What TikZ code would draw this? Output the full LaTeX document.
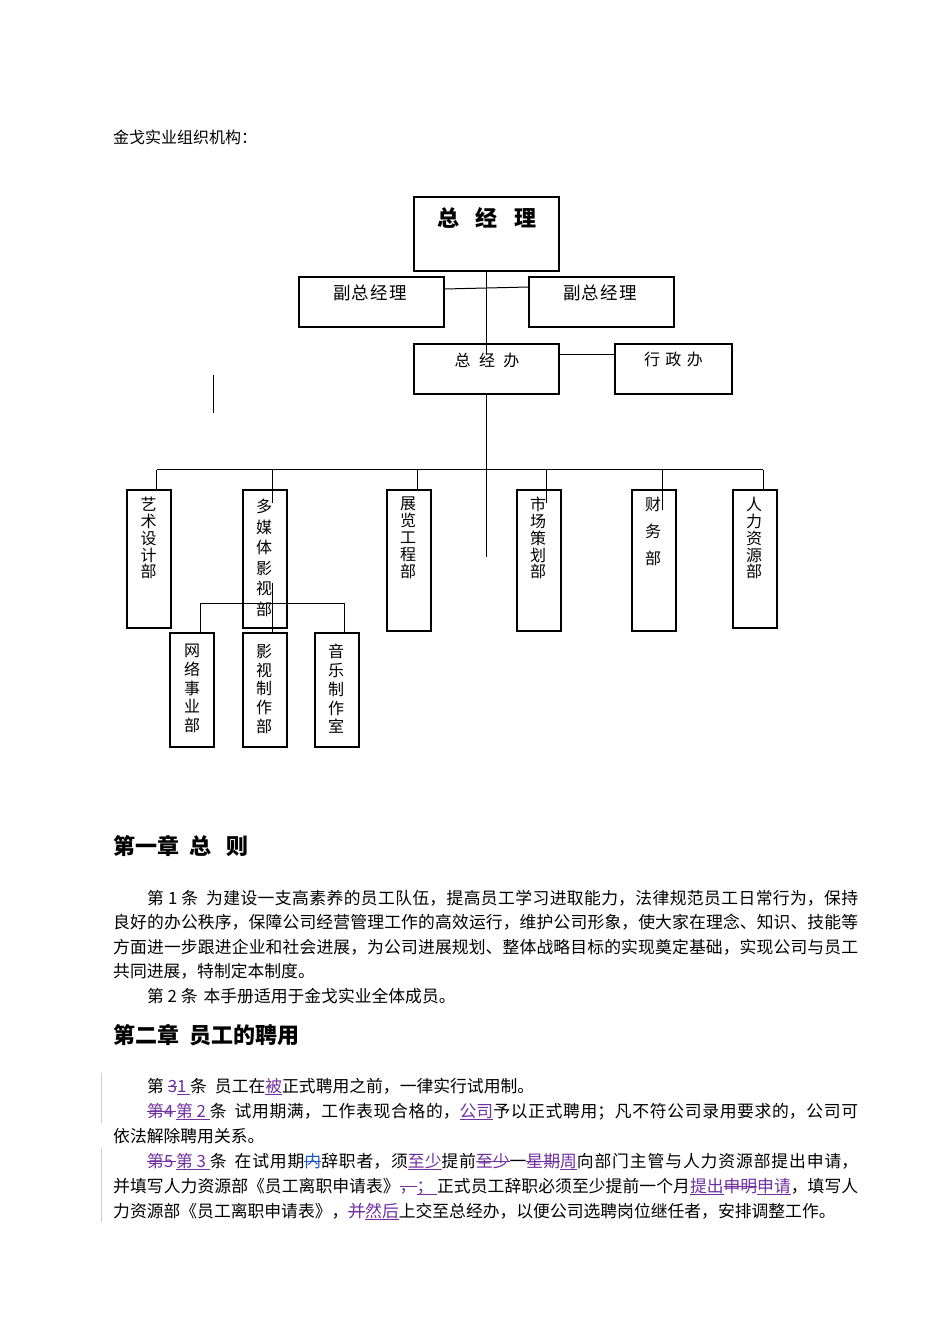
\documentclass[tikz,border=0pt]{standalone}
\usepackage{fontspec}
\setmainfont{Noto Sans CJK SC}
\XeTeXlinebreaklocale "zh"
\XeTeXlinebreakskip=0pt plus 3pt
\definecolor{revc}{RGB}{112,48,160}
\definecolor{revb}{RGB}{30,90,200}
\definecolor{barc}{RGB}{205,205,205}
\newcommand\tdel[1]{\leavevmode\begingroup\color{revc}\setbox0\hbox{#1}\rlap{\rule[5.6pt]{\wd0}{0.7pt}}\box0\endgroup}
\newcommand\tdelb[1]{\leavevmode\begingroup\color{revb}\setbox0\hbox{#1}\rlap{\rule[5.6pt]{\wd0}{0.7pt}}\box0\endgroup}
\newcommand\tins[1]{\leavevmode\begingroup\color{revc}\setbox0\hbox{#1}\rlap{\rule[-2.6pt]{\wd0}{0.7pt}}\box0\endgroup}
\newcommand\jline[2]{\parbox[b]{#1}{\tolerance=10000\hbadness=10000\parfillskip=0pt\noindent #2}}
\tikzset{
  orgbox/.style={draw, line width=1.1pt, inner sep=0pt},
  conn/.style={line width=1pt},
  body/.style={inner sep=0pt, anchor=base west, font=\fontsize{16.8}{20}\selectfont},
  vlab/.style={inner sep=0pt, anchor=north, align=center}
}
\begin{document}
\begin{tikzpicture}[x=1pt,y=-1pt]
\useasboundingbox[fill=white] (0,0) rectangle (950,1344);

% title
\node[body, font=\fontsize{16}{20}\selectfont] (title) at (113,143) {金戈实业组织机构：};

% org chart boxes
\node[orgbox, minimum width=145, minimum height=74] (gm) at (486.5,234) {};
\node[orgbox, minimum width=145, minimum height=50] (vp1) at (371.5,302) {};
\node[orgbox, minimum width=145, minimum height=50] (vp2) at (601.5,302) {};
\node[orgbox, minimum width=145, minimum height=50] (gmo) at (486.5,369) {};
\node[orgbox, minimum width=117, minimum height=50] (adm) at (673.5,369) {};
\node[orgbox, minimum width=44, minimum height=138] (d1) at (149,559) {};
\node[orgbox, minimum width=44, minimum height=138] (d2) at (265,559) {};
\node[orgbox, minimum width=44, minimum height=141] (d3) at (409,560.5) {};
\node[orgbox, minimum width=44, minimum height=141] (d4) at (539,560.5) {};
\node[orgbox, minimum width=44, minimum height=141] (d5) at (654,560.5) {};
\node[orgbox, minimum width=44, minimum height=138] (d6) at (755,559) {};
\node[orgbox, minimum width=44, minimum height=114] (s1) at (192,690) {};
\node[orgbox, minimum width=44, minimum height=114] (s2) at (265,690) {};
\node[orgbox, minimum width=44, minimum height=114] (s3) at (337,690) {};

% labels
\node[inner sep=0pt, anchor=base, font=\fontsize{22}{24}\selectfont\bfseries] (gmt) at (487,226) {总\hspace{17pt}经\hspace{17pt}理};
\node[inner sep=0pt, anchor=base, font=\fontsize{17.5}{20}\selectfont] (vp1t) at (370,299.5) {副\kern1.25pt总\kern1.25pt经\kern1.25pt理};
\node[inner sep=0pt, anchor=base, font=\fontsize{17.5}{20}\selectfont] (vp2t) at (600,299.5) {副\kern1.25pt总\kern1.25pt经\kern1.25pt理};
\node[inner sep=0pt, anchor=base, font=\fontsize{16}{20}\selectfont] (gmot) at (487,366) {总\kern8.5pt经\kern8.5pt办};
\node[inner sep=0pt, anchor=base, font=\fontsize{16}{20}\selectfont] (admt) at (673.5,365) {行\kern5.5pt政\kern5.5pt办};

\node[vlab, font=\fontsize{16}{16.8}\selectfont] (d1t) at (148.5,497) {艺\\术\\设\\计\\部};
\node[vlab, font=\fontsize{16}{20.5}\selectfont] (d2t) at (264,499) {多\\媒\\体\\影\\视\\部};
\node[vlab, font=\fontsize{16}{16.8}\selectfont] (d3t) at (408,497) {展\\览\\工\\程\\部};
\node[vlab, font=\fontsize{16}{16.8}\selectfont] (d4t) at (538,497) {市\\场\\策\\划\\部};
\node[vlab, font=\fontsize{16}{27}\selectfont] (d5t) at (653,497) {财\\务\\部};
\node[vlab, font=\fontsize{16}{16.8}\selectfont] (d6t) at (754,497) {人\\力\\资\\源\\部};
\node[vlab, font=\fontsize{16}{18.75}\selectfont] (s1t) at (192,644) {网\\络\\事\\业\\部};
\node[vlab, font=\fontsize{16}{18.75}\selectfont] (s2t) at (264,644) {影\\视\\制\\作\\部};
\node[vlab, font=\fontsize{16}{18.75}\selectfont] (s3t) at (336,644) {音\\乐\\制\\作\\室};

% connectors
\coordinate (gmoin) at (486.5,355);
\draw[conn] (gm.south) -- (gmoin);
\draw[conn] ([yshift=13pt]vp1.east) -- ([yshift=15pt]vp2.west);
\draw[conn] ([yshift=15pt]gmo.east) -- ([yshift=15pt]adm.west);
\coordinate (cbot) at (486.5,557);
\draw[conn] (gmo.south) -- (cbot);
\coordinate (busL) at (156.5,469.5);
\coordinate (busR) at (763,469.5);
\draw[conn] (busL) -- (busR);
\draw[conn] (busL) -- (busL |- d1.north);
\coordinate (b2) at (272,469.5); \coordinate (e2) at (272,503);
\draw[conn] (b2) -- (e2);
\coordinate (b3) at (417,469.5);
\draw[conn] (b3) -- (b3 |- d3.north);
\coordinate (b4) at (546,469.5); \coordinate (e4) at (546,503);
\draw[conn] (b4) -- (e4);
\coordinate (b5) at (662,469.5); \coordinate (e5) at (662,510);
\draw[conn] (b5) -- (e5);
\draw[conn] (busR) -- (busR |- d6.north);
\coordinate (m1) at (272,583);
\draw[conn] (m1) -- (m1 |- s2.north);
\coordinate (sbL) at (200,603); \coordinate (sbR) at (344,603);
\draw[conn] (sbL) -- (sbR);
\draw[conn] (sbL) -- (sbL |- s1.north);
\draw[conn] (sbR) -- (sbR |- s3.north);
\coordinate (st1) at (213,375); \coordinate (st2) at (213,413);
\draw[conn] (st1) -- (st2);

% chapter 1
\node[body, font=\fontsize{22}{24}\selectfont\bfseries] (h1) at (113,854) {第一章\hspace{10pt}总\hspace{15pt}则};
\node[body] (p1) at (147,904) {\jline{711pt}{第 1 条\hspace{8pt}为建设一支高素养的员工队伍，提高员工学习进取能力，法律规范员工日常行为，保持}};
\node[body] (p2) at (113,928) {\jline{745pt}{良好的办公秩序，保障公司经营管理工作的高效运行，维护公司形象，使大家在理念、知识、技能等}};
\node[body] (p3) at (113,953) {\jline{745pt}{方面进一步跟进企业和社会进展，为公司进展规划、整体战略目标的实现奠定基础，实现公司与员工}};
\node[body] (p4) at (113,977) {共同进展，特制定本制度。};
\node[body] (p5) at (147,1002) {第 2 条\hspace{6pt}本手册适用于金戈实业全体成员。};

% chapter 2
\node[body, font=\fontsize{22}{24}\selectfont\bfseries] (h2) at (113,1043) {第二章\hspace{10pt}员工的聘用};
\node[body] (q1) at (147,1092) {第 \tdel{3}\tins{1\ }条\hspace{8pt}员工在\tins{被}正式聘用之前，一律实行试用制。};
\node[body] (q2) at (147,1117) {\jline{711pt}{\tdel{第4\,}\tins{第 2 }条\hspace{8pt}试用期满，工作表现合格的，\tins{公司}予以正式聘用；凡不符公司录用要求的，公司可}};
\node[body] (q3) at (113,1142) {依法解除聘用关系。};
\node[body] (q4) at (147,1167) {\jline{711pt}{\tdel{第5\,}\tins{第 3 }条\hspace{8pt}在试用期\tdelb{内}辞职者，须\tins{至少}提前\tdel{至少}一\tdel{星期}\tins{周}向部门主管与人力资源部提出申请，}};
\node[body] (q5) at (113,1192) {\jline{745pt}{并填写人力资源部《员工离职申请表》\tdel{，}\tins{；\ }正式员工辞职必须至少提前一个月\tins{提出}\tdel{申明}\tins{申请}，填写人}};
\node[body] (q6) at (113,1217) {力资源部《员工离职申请表》，\tdel{并}\tins{然后}上交至总经办，以便公司选聘岗位继任者，安排调整工作。};

% change bars
\coordinate (cb1) at (101,1073); \coordinate (cb2) at (101,1123);
\coordinate (cb3) at (101,1148); \coordinate (cb4) at (101,1222);
\draw[barc, line width=1pt] (cb1) -- (cb2);
\draw[barc, line width=1pt] (cb3) -- (cb4);
\end{tikzpicture}
\end{document}
